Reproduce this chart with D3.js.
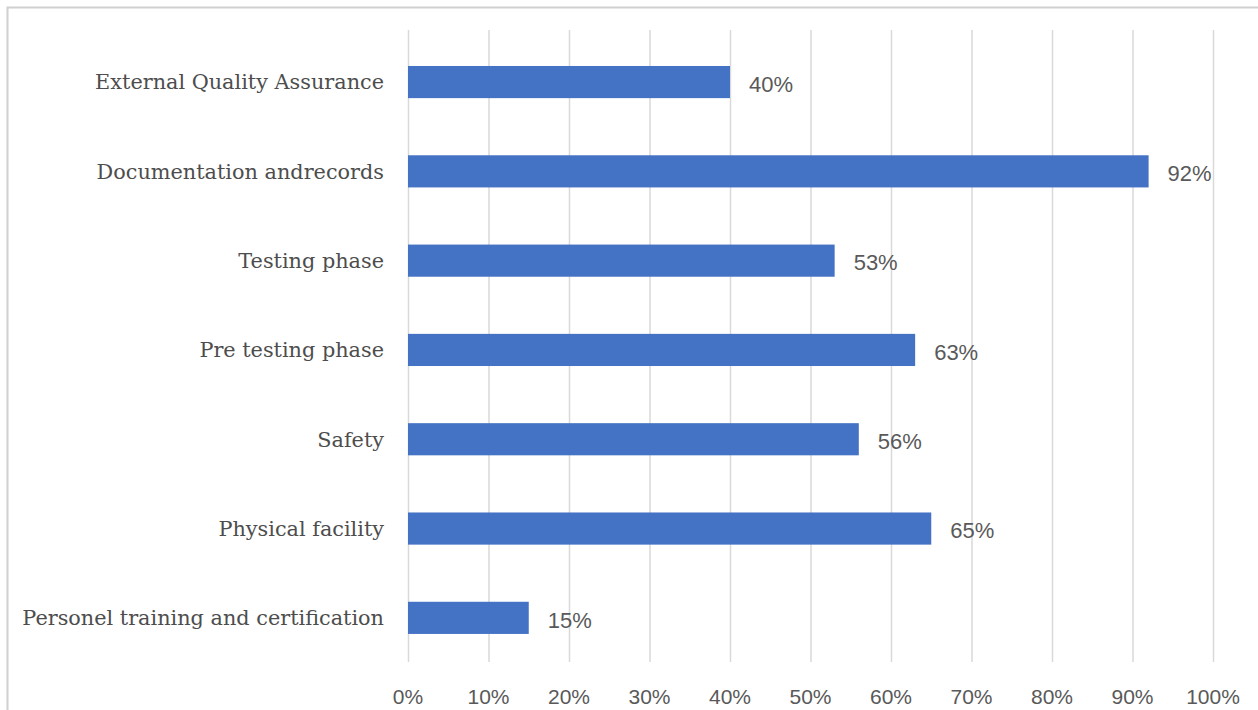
<!DOCTYPE html>
<html><head><meta charset="utf-8">
<script src="https://cdn.jsdelivr.net/npm/d3@7"></script>
<style>body{margin:0;background:#fff}svg{display:block}</style>
</head><body><svg id="c" width="1258" height="710"></svg>
<script>
const categories = ["External Quality Assurance","Documentation andrecords","Testing phase","Pre testing phase","Safety","Physical facility","Personel training and certification"];
const values = [40,92,53,63,56,65,15];
const tickValues = [0,10,20,30,40,50,60,70,80,90,100];
const tickLabels = ["0%","10%","20%","30%","40%","50%","60%","70%","80%","90%","100%"];

const svg = d3.select("#c");
svg.append("rect").attr("x",7.5).attr("y",7.5).attr("width",1260).attr("height",720)
  .attr("fill","none").attr("stroke","#d0d0d0").attr("stroke-width",2);

const x = d3.scaleLinear().domain([0,100]).range([408,1213]);
const y = d3.scaleBand().domain(categories).range([37.4,662.5]).paddingInner(0.64).paddingOuter(0.32);

svg.append("g").selectAll("line").data(tickValues).join("line")
  .attr("x1",d=>x(d)+0.5).attr("x2",d=>x(d)+0.5).attr("y1",30).attr("y2",662)
  .attr("stroke","#d9d9d9").attr("stroke-width",1.5);

svg.append("g").selectAll("rect").data(values).join("rect")
  .attr("x",x(0)).attr("y",(d,i)=>y(categories[i]))
  .attr("width",d=>x(d)-x(0)).attr("height",y.bandwidth())
  .attr("fill","#4472C4");

svg.append("g").selectAll("text").data(values).join("text")
  .attr("x",d=>x(d)+19).attr("y",(d,i)=>y(categories[i])+y.bandwidth()/2+2)
  .attr("dy","0.35em").attr("font-family","'Liberation Sans', Arial, sans-serif")
  .attr("font-size",22).attr("fill","#595959").text(d=>d+"%");

svg.append("g").selectAll("text").data(categories).join("text")
  .attr("x",384).attr("y",d=>y(d)+y.bandwidth()/2).attr("dy","0.35em")
  .attr("text-anchor","end").attr("font-family","'DejaVu Serif', 'Liberation Serif', serif")
  .attr("font-size",20.8).attr("fill","#4d4d4d").text(d=>d);

svg.append("g").selectAll("text").data(tickValues).join("text")
  .attr("x",d=>x(d)).attr("y",697).attr("dy","0.35em").attr("text-anchor","middle")
  .attr("font-family","'Liberation Sans', Arial, sans-serif").attr("font-size",21)
  .attr("fill","#595959").text((d,i)=>tickLabels[i]);
</script></body></html>
